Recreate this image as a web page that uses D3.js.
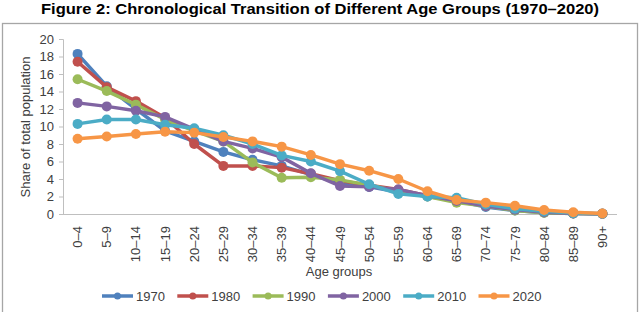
<!DOCTYPE html>
<html><head><meta charset="utf-8">
<script src="https://cdn.jsdelivr.net/npm/d3@7"></script>
<style>body{margin:0;background:#fff;} svg{display:block;font-family:Arial,"Liberation Sans",sans-serif;}</style>
</head><body>
<script>
const title = "Figure 2: Chronological Transition of Different Age Groups (1970–2020)";
const ageGroups = ["0–4","5–9","10–14","15–19","20–24","25–29","30–34","35–39","40–44","45–49","50–54","55–59","60–64","65–69","70–74","75–79","80–84","85–89","90+"];
const years = ["1970","1980","1990","2000","2010","2020"];
const v1970 = [18.3,14.6,12.0,9.5,8.3,7.1,6.2,5.5,4.5,3.5,3.1,2.5,2.0,1.5,0.8,0.4,0.15,0.05,0.02];
const v1980 = [17.4,14.5,12.9,11.0,8.0,5.5,5.5,5.3,4.6,3.8,3.3,2.8,2.1,1.5,1.0,0.5,0.2,0.1,0.03];
const v1990 = [15.4,14.05,12.5,10.8,9.5,8.3,5.9,4.15,4.2,3.9,3.3,2.6,2.0,1.3,0.9,0.4,0.15,0.05,0.02];
const v2000 = [12.7,12.3,11.8,11.1,9.7,8.3,7.5,6.5,4.65,3.2,3.1,2.8,2.1,1.5,0.9,0.5,0.2,0.07,0.02];
const v2010 = [10.3,10.8,10.8,10.2,9.8,9.0,8.0,6.7,6.0,4.9,3.4,2.3,2.0,1.85,1.1,0.6,0.3,0.1,0.03];
const v2020 = [8.6,8.85,9.15,9.4,9.3,8.8,8.3,7.7,6.75,5.7,4.95,4.0,2.6,1.6,1.3,0.95,0.45,0.2,0.05];
const yTicks = [0,2,4,6,8,10,12,14,16,18,20];
const colors = ["#4F81BD","#C0504D","#9BBB59","#8064A2","#4BACC6","#F79646"];
const seriesValues = [v1970,v1980,v1990,v2000,v2010,v2020];

const W = 641, H = 312;
const svg = d3.select("body").append("svg").attr("width", W).attr("height", H);

svg.append("rect").attr("x",2.5).attr("y",23.5).attr("width",635).attr("height",300)
  .attr("fill","#fff").attr("stroke","#a6a6a6").attr("stroke-width",1.3);

svg.append("text").attr("x",320).attr("y",14).attr("text-anchor","middle")
  .attr("font-size",15.5).attr("font-weight","bold").attr("fill","#000")
  .attr("textLength",558).attr("lengthAdjust","spacingAndGlyphs").text(title);

const x = d3.scaleBand().domain(ageGroups).range([63,617]);
const y = d3.scaleLinear().domain([0,20]).range([214,39]);
const cx = d => x(d) + x.bandwidth()/2;

// Y axis
const ya = svg.append("g").attr("transform","translate(63,0)")
  .call(d3.axisLeft(y).tickValues(yTicks).tickSize(4).tickPadding(5));
ya.select(".domain").attr("stroke","#bfbfbf").attr("d","M-4,39.5H0.5V214.5");
ya.selectAll(".tick line").attr("stroke","#bfbfbf");
ya.selectAll(".tick text").attr("font-size",13).attr("fill","#404040").attr("font-family","Arial,'Liberation Sans',sans-serif");

// X axis
const xa = svg.append("g").attr("transform","translate(0,214)")
  .call(d3.axisBottom(x).tickSize(0).tickPadding(0));
xa.select(".domain").attr("stroke","#bfbfbf").attr("d","M63,0.5H617");
xa.selectAll(".tick text").attr("font-size",13).attr("fill","#404040")
  .attr("font-family","Arial,'Liberation Sans',sans-serif")
  .attr("text-anchor","end").attr("dy","0.35em")
  .attr("transform","translate(0,12) rotate(-90)").attr("x",0).attr("y",0);

svg.append("text").attr("x",339).attr("y",276).attr("text-anchor","middle")
  .attr("font-size",13).attr("fill","#404040").text("Age groups");
svg.append("text").attr("transform","translate(30,127) rotate(-90)").attr("text-anchor","middle")
  .attr("font-size",13).attr("fill","#404040").text("Share of total population");

const line = d3.line().x((d,i)=>cx(ageGroups[i])).y(d=>y(d));
years.forEach((yr,k)=>{
  const g = svg.append("g");
  g.append("path").datum(seriesValues[k]).attr("d",line).attr("fill","none")
    .attr("stroke",colors[k]).attr("stroke-width",3.5).attr("stroke-linejoin","round");
  g.selectAll("circle").data(seriesValues[k]).join("circle")
    .attr("cx",(d,i)=>cx(ageGroups[i])).attr("cy",d=>y(d)).attr("r",5).attr("fill",colors[k]);
});

// Legend
const lg = svg.append("g");
years.forEach((yr,k)=>{
  const x0 = 102 + k*75.3;
  lg.append("line").attr("x1",x0).attr("x2",x0+31).attr("y1",296).attr("y2",296)
    .attr("stroke",colors[k]).attr("stroke-width",3.5);
  lg.append("circle").attr("cx",x0+15.5).attr("cy",296).attr("r",3.5).attr("fill",colors[k]);
  lg.append("text").attr("x",x0+34).attr("y",300.5).attr("font-size",13).attr("fill","#404040").text(yr);
});
</script>
</body></html>
